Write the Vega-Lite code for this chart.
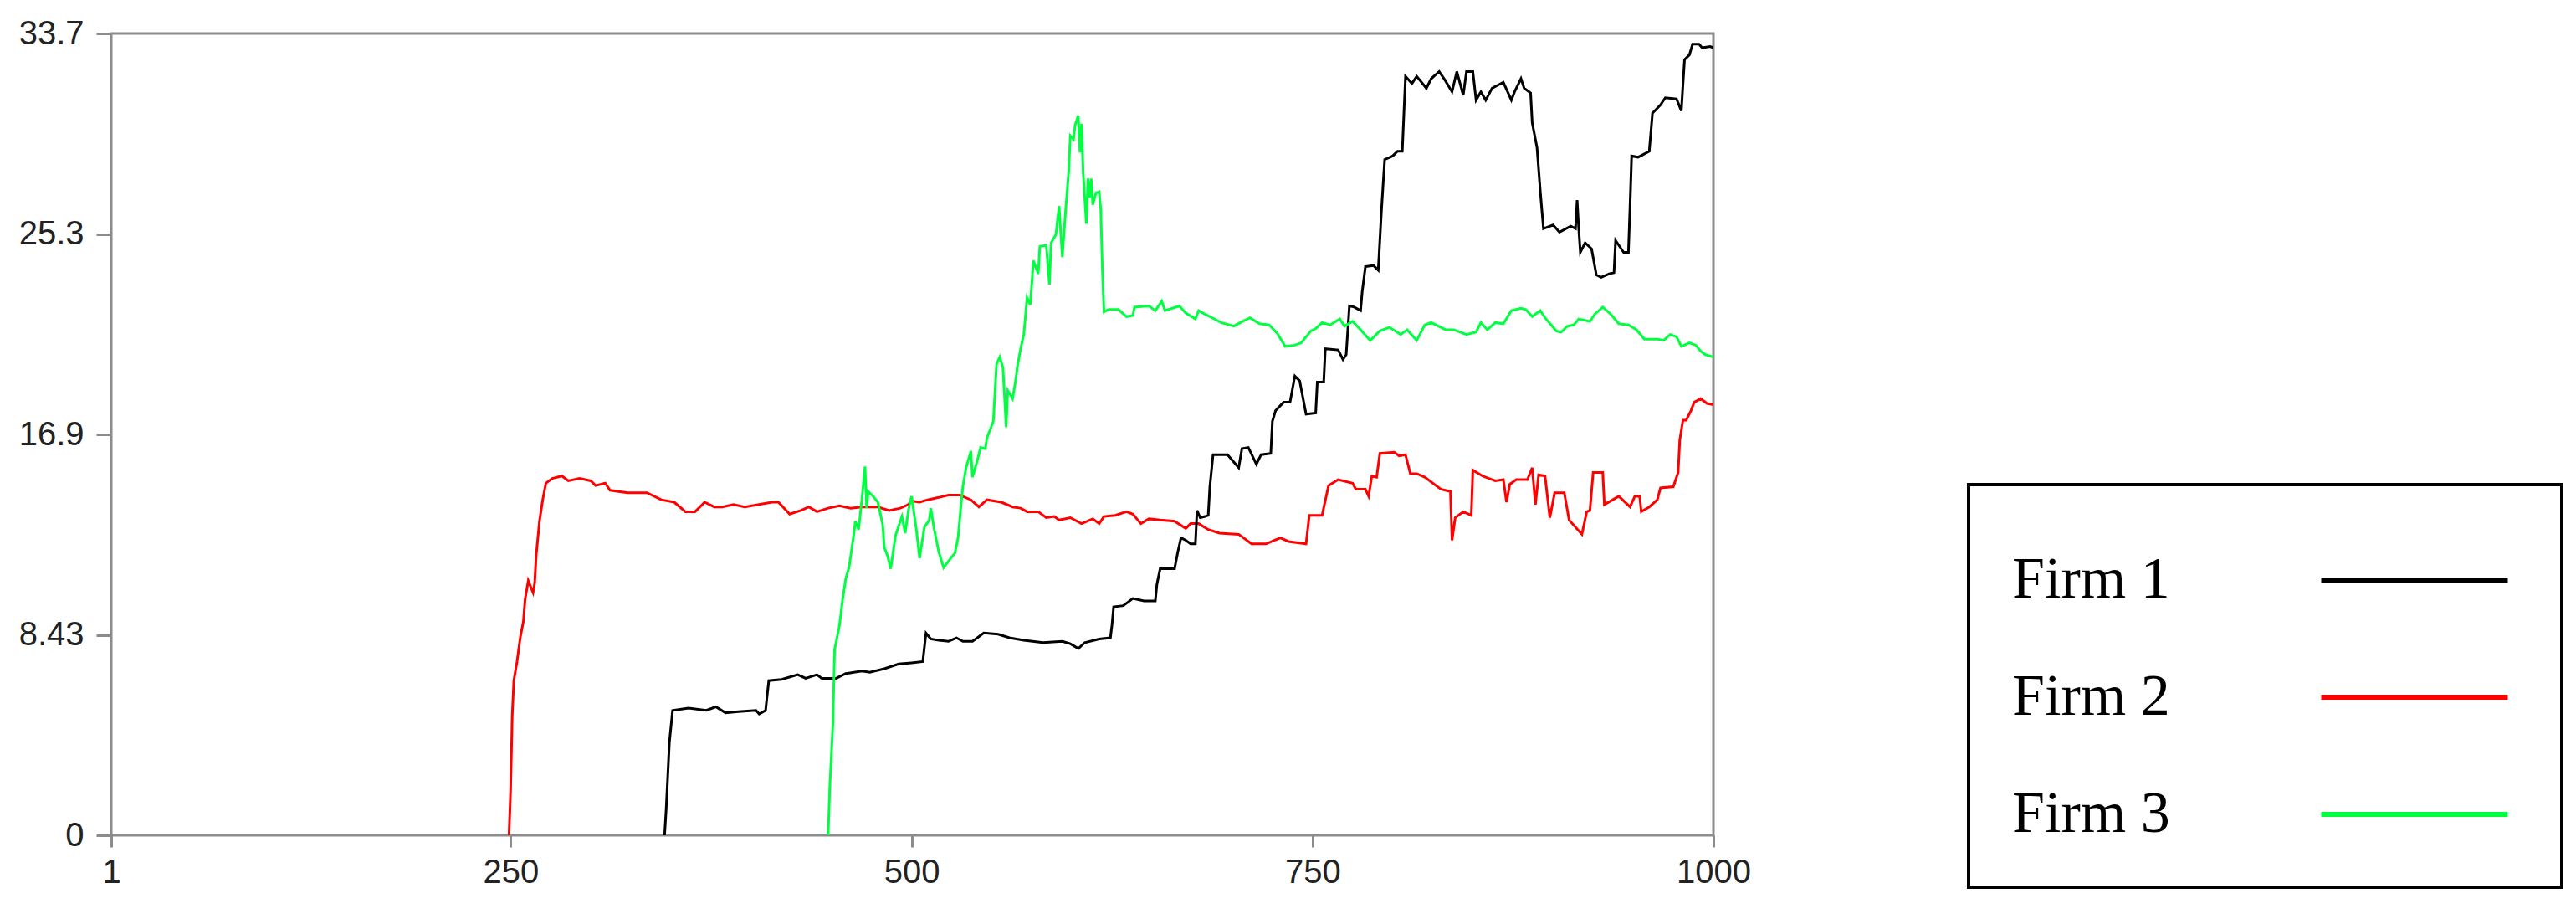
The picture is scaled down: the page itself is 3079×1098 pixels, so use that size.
{
  "$schema": "https://vega.github.io/schema/vega-lite/v6.json",
  "autosize": {"type": "none"},
  "padding": {"left": 133, "top": 40, "right": 1031, "bottom": 100},
  "width": 1915,
  "height": 958,
  "background": "white",
  "config": {
    "view": {"stroke": "#8c8c8c", "strokeWidth": 3},
    "axis": {"grid": false, "domain": false, "title": null, "tickColor": "#8c8c8c", "tickWidth": 3, "labelFont": "Liberation Sans", "labelFontSize": 40, "labelColor": "#222222", "labelOverlap": false, "labelFlush": false},
    "legend": {"strokeWidth": 4}
  },
  "data": {"values": [
    {"t":249,"firm":"Firm 2","v":0},{"t":250,"firm":"Firm 2","v":1.9},{"t":251,"firm":"Firm 2","v":5.0},{"t":252,"firm":"Firm 2","v":6.5},{"t":254,"firm":"Firm 2","v":7.3},{"t":256,"firm":"Firm 2","v":8.3},{"t":258,"firm":"Firm 2","v":9.0},{"t":259,"firm":"Firm 2","v":9.9},{"t":261,"firm":"Firm 2","v":10.7},{"t":264,"firm":"Firm 2","v":10.2},{"t":265,"firm":"Firm 2","v":10.6},{"t":266,"firm":"Firm 2","v":11.8},{"t":268,"firm":"Firm 2","v":13.2},{"t":270,"firm":"Firm 2","v":14.1},{"t":272,"firm":"Firm 2","v":14.8},{"t":276,"firm":"Firm 2","v":15.0},{"t":282,"firm":"Firm 2","v":15.1},{"t":286,"firm":"Firm 2","v":14.9},{"t":293,"firm":"Firm 2","v":15.0},{"t":300,"firm":"Firm 2","v":14.9},{"t":303,"firm":"Firm 2","v":14.7},{"t":309,"firm":"Firm 2","v":14.8},{"t":312,"firm":"Firm 2","v":14.5},{"t":323,"firm":"Firm 2","v":14.4},{"t":335,"firm":"Firm 2","v":14.4},{"t":344,"firm":"Firm 2","v":14.1},{"t":352,"firm":"Firm 2","v":14.0},{"t":359,"firm":"Firm 2","v":13.6},{"t":365,"firm":"Firm 2","v":13.6},{"t":371,"firm":"Firm 2","v":14.0},{"t":377,"firm":"Firm 2","v":13.8},{"t":382,"firm":"Firm 2","v":13.8},{"t":389,"firm":"Firm 2","v":13.9},{"t":396,"firm":"Firm 2","v":13.8},{"t":413,"firm":"Firm 2","v":14.0},{"t":417,"firm":"Firm 2","v":14.0},{"t":424,"firm":"Firm 2","v":13.5},{"t":431,"firm":"Firm 2","v":13.65},{"t":436,"firm":"Firm 2","v":13.8},{"t":441,"firm":"Firm 2","v":13.6},{"t":448,"firm":"Firm 2","v":13.75},{"t":455,"firm":"Firm 2","v":13.85},{"t":462,"firm":"Firm 2","v":13.75},{"t":469,"firm":"Firm 2","v":13.8},{"t":479,"firm":"Firm 2","v":13.8},{"t":486,"firm":"Firm 2","v":13.65},{"t":493,"firm":"Firm 2","v":13.75},{"t":498,"firm":"Firm 2","v":13.9},{"t":500,"firm":"Firm 2","v":14.05},{"t":505,"firm":"Firm 2","v":14.0},{"t":510,"firm":"Firm 2","v":14.1},{"t":517,"firm":"Firm 2","v":14.2},{"t":523,"firm":"Firm 2","v":14.3},{"t":530,"firm":"Firm 2","v":14.3},{"t":537,"firm":"Firm 2","v":14.1},{"t":542,"firm":"Firm 2","v":13.8},{"t":547,"firm":"Firm 2","v":14.1},{"t":556,"firm":"Firm 2","v":14.0},{"t":563,"firm":"Firm 2","v":13.8},{"t":568,"firm":"Firm 2","v":13.75},{"t":572,"firm":"Firm 2","v":13.6},{"t":579,"firm":"Firm 2","v":13.6},{"t":584,"firm":"Firm 2","v":13.35},{"t":589,"firm":"Firm 2","v":13.4},{"t":592,"firm":"Firm 2","v":13.25},{"t":599,"firm":"Firm 2","v":13.35},{"t":606,"firm":"Firm 2","v":13.1},{"t":613,"firm":"Firm 2","v":13.3},{"t":617,"firm":"Firm 2","v":13.1},{"t":620,"firm":"Firm 2","v":13.4},{"t":627,"firm":"Firm 2","v":13.45},{"t":634,"firm":"Firm 2","v":13.6},{"t":638,"firm":"Firm 2","v":13.5},{"t":643,"firm":"Firm 2","v":13.1},{"t":648,"firm":"Firm 2","v":13.3},{"t":655,"firm":"Firm 2","v":13.25},{"t":664,"firm":"Firm 2","v":13.2},{"t":671,"firm":"Firm 2","v":12.9},{"t":674,"firm":"Firm 2","v":13.1},{"t":679,"firm":"Firm 2","v":13.1},{"t":685,"firm":"Firm 2","v":12.85},{"t":692,"firm":"Firm 2","v":12.7},{"t":704,"firm":"Firm 2","v":12.65},{"t":712,"firm":"Firm 2","v":12.25},{"t":721,"firm":"Firm 2","v":12.25},{"t":730,"firm":"Firm 2","v":12.5},{"t":735,"firm":"Firm 2","v":12.35},{"t":746,"firm":"Firm 2","v":12.25},{"t":748,"firm":"Firm 2","v":13.45},{"t":756,"firm":"Firm 2","v":13.45},{"t":760,"firm":"Firm 2","v":14.7},{"t":766,"firm":"Firm 2","v":14.95},{"t":775,"firm":"Firm 2","v":14.8},{"t":777,"firm":"Firm 2","v":14.55},{"t":783,"firm":"Firm 2","v":14.55},{"t":785,"firm":"Firm 2","v":14.25},{"t":787,"firm":"Firm 2","v":15.1},{"t":790,"firm":"Firm 2","v":15.05},{"t":792,"firm":"Firm 2","v":16.05},{"t":801,"firm":"Firm 2","v":16.1},{"t":804,"firm":"Firm 2","v":15.95},{"t":808,"firm":"Firm 2","v":16.0},{"t":811,"firm":"Firm 2","v":15.2},{"t":815,"firm":"Firm 2","v":15.2},{"t":820,"firm":"Firm 2","v":15.05},{"t":830,"firm":"Firm 2","v":14.55},{"t":836,"firm":"Firm 2","v":14.45},{"t":837,"firm":"Firm 2","v":12.4},{"t":839,"firm":"Firm 2","v":13.35},{"t":844,"firm":"Firm 2","v":13.6},{"t":849,"firm":"Firm 2","v":13.45},{"t":850,"firm":"Firm 2","v":15.35},{"t":856,"firm":"Firm 2","v":15.1},{"t":864,"firm":"Firm 2","v":14.9},{"t":869,"firm":"Firm 2","v":14.95},{"t":871,"firm":"Firm 2","v":14.0},{"t":873,"firm":"Firm 2","v":14.75},{"t":877,"firm":"Firm 2","v":14.95},{"t":884,"firm":"Firm 2","v":14.95},{"t":887,"firm":"Firm 2","v":15.45},{"t":889,"firm":"Firm 2","v":13.9},{"t":891,"firm":"Firm 2","v":15.15},{"t":895,"firm":"Firm 2","v":15.1},{"t":898,"firm":"Firm 2","v":13.35},{"t":901,"firm":"Firm 2","v":14.4},{"t":907,"firm":"Firm 2","v":14.4},{"t":910,"firm":"Firm 2","v":13.25},{"t":918,"firm":"Firm 2","v":12.65},{"t":921,"firm":"Firm 2","v":13.6},{"t":923,"firm":"Firm 2","v":13.65},{"t":925,"firm":"Firm 2","v":15.25},{"t":931,"firm":"Firm 2","v":15.25},{"t":932,"firm":"Firm 2","v":13.9},{"t":941,"firm":"Firm 2","v":14.25},{"t":948,"firm":"Firm 2","v":13.8},{"t":951,"firm":"Firm 2","v":14.25},{"t":954,"firm":"Firm 2","v":14.25},{"t":955,"firm":"Firm 2","v":13.6},{"t":960,"firm":"Firm 2","v":13.8},{"t":965,"firm":"Firm 2","v":14.1},{"t":967,"firm":"Firm 2","v":14.6},{"t":975,"firm":"Firm 2","v":14.65},{"t":978,"firm":"Firm 2","v":15.25},{"t":979,"firm":"Firm 2","v":16.6},{"t":981,"firm":"Firm 2","v":17.45},{"t":983,"firm":"Firm 2","v":17.45},{"t":986,"firm":"Firm 2","v":17.85},{"t":988,"firm":"Firm 2","v":18.2},{"t":992,"firm":"Firm 2","v":18.35},{"t":996,"firm":"Firm 2","v":18.15},{"t":1000,"firm":"Firm 2","v":18.1},
    {"t":346,"firm":"Firm 1","v":0},{"t":347,"firm":"Firm 1","v":1.1},{"t":349,"firm":"Firm 1","v":3.9},{"t":351,"firm":"Firm 1","v":5.25},{"t":361,"firm":"Firm 1","v":5.35},{"t":372,"firm":"Firm 1","v":5.25},{"t":378,"firm":"Firm 1","v":5.4},{"t":384,"firm":"Firm 1","v":5.15},{"t":392,"firm":"Firm 1","v":5.2},{"t":403,"firm":"Firm 1","v":5.25},{"t":405,"firm":"Firm 1","v":5.1},{"t":409,"firm":"Firm 1","v":5.25},{"t":410,"firm":"Firm 1","v":5.9},{"t":411,"firm":"Firm 1","v":6.5},{"t":419,"firm":"Firm 1","v":6.55},{"t":429,"firm":"Firm 1","v":6.75},{"t":434,"firm":"Firm 1","v":6.6},{"t":441,"firm":"Firm 1","v":6.75},{"t":444,"firm":"Firm 1","v":6.6},{"t":453,"firm":"Firm 1","v":6.6},{"t":459,"firm":"Firm 1","v":6.8},{"t":469,"firm":"Firm 1","v":6.9},{"t":474,"firm":"Firm 1","v":6.85},{"t":483,"firm":"Firm 1","v":7.0},{"t":492,"firm":"Firm 1","v":7.2},{"t":500,"firm":"Firm 1","v":7.25},{"t":507,"firm":"Firm 1","v":7.3},{"t":509,"firm":"Firm 1","v":8.5},{"t":512,"firm":"Firm 1","v":8.25},{"t":517,"firm":"Firm 1","v":8.2},{"t":523,"firm":"Firm 1","v":8.15},{"t":528,"firm":"Firm 1","v":8.3},{"t":532,"firm":"Firm 1","v":8.15},{"t":538,"firm":"Firm 1","v":8.15},{"t":545,"firm":"Firm 1","v":8.5},{"t":554,"firm":"Firm 1","v":8.45},{"t":561,"firm":"Firm 1","v":8.3},{"t":570,"firm":"Firm 1","v":8.2},{"t":582,"firm":"Firm 1","v":8.1},{"t":594,"firm":"Firm 1","v":8.15},{"t":599,"firm":"Firm 1","v":8.05},{"t":604,"firm":"Firm 1","v":7.85},{"t":608,"firm":"Firm 1","v":8.1},{"t":617,"firm":"Firm 1","v":8.25},{"t":624,"firm":"Firm 1","v":8.3},{"t":625,"firm":"Firm 1","v":8.85},{"t":626,"firm":"Firm 1","v":9.6},{"t":632,"firm":"Firm 1","v":9.65},{"t":638,"firm":"Firm 1","v":9.95},{"t":645,"firm":"Firm 1","v":9.85},{"t":652,"firm":"Firm 1","v":9.85},{"t":653,"firm":"Firm 1","v":10.55},{"t":655,"firm":"Firm 1","v":11.2},{"t":664,"firm":"Firm 1","v":11.2},{"t":666,"firm":"Firm 1","v":11.9},{"t":668,"firm":"Firm 1","v":12.5},{"t":671,"firm":"Firm 1","v":12.4},{"t":674,"firm":"Firm 1","v":12.25},{"t":677,"firm":"Firm 1","v":12.25},{"t":678,"firm":"Firm 1","v":13.65},{"t":680,"firm":"Firm 1","v":13.35},{"t":683,"firm":"Firm 1","v":13.4},{"t":685,"firm":"Firm 1","v":13.45},{"t":686,"firm":"Firm 1","v":14.65},{"t":688,"firm":"Firm 1","v":16.0},{"t":693,"firm":"Firm 1","v":16.0},{"t":697,"firm":"Firm 1","v":16.0},{"t":704,"firm":"Firm 1","v":15.45},{"t":706,"firm":"Firm 1","v":16.25},{"t":710,"firm":"Firm 1","v":16.3},{"t":715,"firm":"Firm 1","v":15.6},{"t":718,"firm":"Firm 1","v":16.0},{"t":724,"firm":"Firm 1","v":16.05},{"t":725,"firm":"Firm 1","v":17.4},{"t":727,"firm":"Firm 1","v":17.85},{"t":732,"firm":"Firm 1","v":18.2},{"t":736,"firm":"Firm 1","v":18.2},{"t":739,"firm":"Firm 1","v":19.3},{"t":742,"firm":"Firm 1","v":19.1},{"t":746,"firm":"Firm 1","v":17.7},{"t":752,"firm":"Firm 1","v":17.75},{"t":753,"firm":"Firm 1","v":19.05},{"t":757,"firm":"Firm 1","v":19.05},{"t":758,"firm":"Firm 1","v":20.45},{"t":766,"firm":"Firm 1","v":20.4},{"t":769,"firm":"Firm 1","v":20.0},{"t":771,"firm":"Firm 1","v":20.2},{"t":773,"firm":"Firm 1","v":22.25},{"t":776,"firm":"Firm 1","v":22.2},{"t":780,"firm":"Firm 1","v":22.05},{"t":781,"firm":"Firm 1","v":22.85},{"t":783,"firm":"Firm 1","v":23.9},{"t":788,"firm":"Firm 1","v":23.95},{"t":791,"firm":"Firm 1","v":23.75},{"t":793,"firm":"Firm 1","v":26.25},{"t":795,"firm":"Firm 1","v":28.4},{"t":800,"firm":"Firm 1","v":28.55},{"t":803,"firm":"Firm 1","v":28.75},{"t":806,"firm":"Firm 1","v":28.75},{"t":807,"firm":"Firm 1","v":30.35},{"t":808,"firm":"Firm 1","v":31.9},{"t":812,"firm":"Firm 1","v":31.6},{"t":815,"firm":"Firm 1","v":31.9},{"t":821,"firm":"Firm 1","v":31.4},{"t":824,"firm":"Firm 1","v":31.8},{"t":829,"firm":"Firm 1","v":32.1},{"t":833,"firm":"Firm 1","v":31.7},{"t":837,"firm":"Firm 1","v":31.25},{"t":840,"firm":"Firm 1","v":32.1},{"t":844,"firm":"Firm 1","v":31.1},{"t":846,"firm":"Firm 1","v":32.1},{"t":850,"firm":"Firm 1","v":32.1},{"t":852,"firm":"Firm 1","v":30.9},{"t":855,"firm":"Firm 1","v":31.25},{"t":858,"firm":"Firm 1","v":30.9},{"t":862,"firm":"Firm 1","v":31.4},{"t":869,"firm":"Firm 1","v":31.65},{"t":874,"firm":"Firm 1","v":30.9},{"t":876,"firm":"Firm 1","v":31.25},{"t":880,"firm":"Firm 1","v":31.8},{"t":882,"firm":"Firm 1","v":31.4},{"t":886,"firm":"Firm 1","v":31.2},{"t":887,"firm":"Firm 1","v":29.95},{"t":890,"firm":"Firm 1","v":28.9},{"t":892,"firm":"Firm 1","v":27.1},{"t":894,"firm":"Firm 1","v":25.5},{"t":900,"firm":"Firm 1","v":25.65},{"t":904,"firm":"Firm 1","v":25.35},{"t":911,"firm":"Firm 1","v":25.6},{"t":914,"firm":"Firm 1","v":25.5},{"t":915,"firm":"Firm 1","v":26.7},{"t":916,"firm":"Firm 1","v":25.5},{"t":917,"firm":"Firm 1","v":24.5},{"t":920,"firm":"Firm 1","v":24.9},{"t":924,"firm":"Firm 1","v":24.65},{"t":927,"firm":"Firm 1","v":23.55},{"t":930,"firm":"Firm 1","v":23.45},{"t":935,"firm":"Firm 1","v":23.6},{"t":938,"firm":"Firm 1","v":23.65},{"t":939,"firm":"Firm 1","v":25.0},{"t":941,"firm":"Firm 1","v":24.8},{"t":944,"firm":"Firm 1","v":24.5},{"t":947,"firm":"Firm 1","v":24.5},{"t":948,"firm":"Firm 1","v":26.45},{"t":949,"firm":"Firm 1","v":28.55},{"t":953,"firm":"Firm 1","v":28.5},{"t":960,"firm":"Firm 1","v":28.75},{"t":962,"firm":"Firm 1","v":30.35},{"t":967,"firm":"Firm 1","v":30.7},{"t":970,"firm":"Firm 1","v":31.0},{"t":977,"firm":"Firm 1","v":30.95},{"t":980,"firm":"Firm 1","v":30.45},{"t":981,"firm":"Firm 1","v":31.55},{"t":982,"firm":"Firm 1","v":32.6},{"t":985,"firm":"Firm 1","v":32.8},{"t":987,"firm":"Firm 1","v":33.25},{"t":991,"firm":"Firm 1","v":33.25},{"t":993,"firm":"Firm 1","v":33.1},{"t":998,"firm":"Firm 1","v":33.15},{"t":1000,"firm":"Firm 1","v":33.1},
    {"t":448,"firm":"Firm 3","v":0},{"t":449,"firm":"Firm 3","v":2.0},{"t":451,"firm":"Firm 3","v":4.75},{"t":452,"firm":"Firm 3","v":7.8},{"t":455,"firm":"Firm 3","v":8.8},{"t":457,"firm":"Firm 3","v":9.9},{"t":459,"firm":"Firm 3","v":10.8},{"t":461,"firm":"Firm 3","v":11.25},{"t":464,"firm":"Firm 3","v":12.65},{"t":465,"firm":"Firm 3","v":13.2},{"t":467,"firm":"Firm 3","v":12.85},{"t":469,"firm":"Firm 3","v":14.1},{"t":471,"firm":"Firm 3","v":15.5},{"t":472,"firm":"Firm 3","v":13.75},{"t":473,"firm":"Firm 3","v":14.45},{"t":476,"firm":"Firm 3","v":14.25},{"t":479,"firm":"Firm 3","v":14.0},{"t":482,"firm":"Firm 3","v":13.05},{"t":483,"firm":"Firm 3","v":12.1},{"t":485,"firm":"Firm 3","v":11.75},{"t":487,"firm":"Firm 3","v":11.2},{"t":490,"firm":"Firm 3","v":12.6},{"t":494,"firm":"Firm 3","v":13.4},{"t":496,"firm":"Firm 3","v":12.7},{"t":498,"firm":"Firm 3","v":13.65},{"t":500,"firm":"Firm 3","v":14.25},{"t":503,"firm":"Firm 3","v":12.85},{"t":505,"firm":"Firm 3","v":11.65},{"t":508,"firm":"Firm 3","v":12.95},{"t":511,"firm":"Firm 3","v":13.25},{"t":512,"firm":"Firm 3","v":13.75},{"t":514,"firm":"Firm 3","v":12.9},{"t":517,"firm":"Firm 3","v":11.9},{"t":520,"firm":"Firm 3","v":11.25},{"t":525,"firm":"Firm 3","v":11.7},{"t":527,"firm":"Firm 3","v":11.85},{"t":529,"firm":"Firm 3","v":12.5},{"t":531,"firm":"Firm 3","v":14.0},{"t":532,"firm":"Firm 3","v":14.65},{"t":534,"firm":"Firm 3","v":15.45},{"t":537,"firm":"Firm 3","v":16.15},{"t":538,"firm":"Firm 3","v":15.05},{"t":541,"firm":"Firm 3","v":15.75},{"t":543,"firm":"Firm 3","v":16.3},{"t":546,"firm":"Firm 3","v":16.25},{"t":547,"firm":"Firm 3","v":16.7},{"t":551,"firm":"Firm 3","v":17.4},{"t":553,"firm":"Firm 3","v":19.8},{"t":555,"firm":"Firm 3","v":20.1},{"t":557,"firm":"Firm 3","v":19.65},{"t":559,"firm":"Firm 3","v":17.15},{"t":560,"firm":"Firm 3","v":18.7},{"t":563,"firm":"Firm 3","v":18.35},{"t":565,"firm":"Firm 3","v":19.15},{"t":566,"firm":"Firm 3","v":19.7},{"t":568,"firm":"Firm 3","v":20.45},{"t":570,"firm":"Firm 3","v":21.05},{"t":571,"firm":"Firm 3","v":21.8},{"t":572,"firm":"Firm 3","v":22.6},{"t":574,"firm":"Firm 3","v":22.3},{"t":575,"firm":"Firm 3","v":23.2},{"t":576,"firm":"Firm 3","v":24.15},{"t":579,"firm":"Firm 3","v":23.6},{"t":580,"firm":"Firm 3","v":24.75},{"t":584,"firm":"Firm 3","v":24.8},{"t":586,"firm":"Firm 3","v":23.15},{"t":587,"firm":"Firm 3","v":24.9},{"t":590,"firm":"Firm 3","v":25.25},{"t":591,"firm":"Firm 3","v":25.85},{"t":592,"firm":"Firm 3","v":26.45},{"t":594,"firm":"Firm 3","v":24.3},{"t":596,"firm":"Firm 3","v":26.2},{"t":598,"firm":"Firm 3","v":27.9},{"t":599,"firm":"Firm 3","v":29.4},{"t":601,"firm":"Firm 3","v":29.25},{"t":602,"firm":"Firm 3","v":29.85},{"t":604,"firm":"Firm 3","v":30.25},{"t":605,"firm":"Firm 3","v":28.7},{"t":606,"firm":"Firm 3","v":29.9},{"t":607,"firm":"Firm 3","v":27.85},{"t":609,"firm":"Firm 3","v":25.7},{"t":610,"firm":"Firm 3","v":27.6},{"t":611,"firm":"Firm 3","v":26.8},{"t":612,"firm":"Firm 3","v":27.6},{"t":613,"firm":"Firm 3","v":26.5},{"t":615,"firm":"Firm 3","v":27.0},{"t":617,"firm":"Firm 3","v":27.05},{"t":618,"firm":"Firm 3","v":26.3},{"t":619,"firm":"Firm 3","v":23.75},{"t":620,"firm":"Firm 3","v":22.0},{"t":623,"firm":"Firm 3","v":22.1},{"t":629,"firm":"Firm 3","v":22.1},{"t":634,"firm":"Firm 3","v":21.8},{"t":638,"firm":"Firm 3","v":21.85},{"t":639,"firm":"Firm 3","v":22.2},{"t":648,"firm":"Firm 3","v":22.25},{"t":652,"firm":"Firm 3","v":22.05},{"t":656,"firm":"Firm 3","v":22.45},{"t":658,"firm":"Firm 3","v":22.05},{"t":667,"firm":"Firm 3","v":22.25},{"t":671,"firm":"Firm 3","v":21.95},{"t":677,"firm":"Firm 3","v":21.7},{"t":679,"firm":"Firm 3","v":22.05},{"t":683,"firm":"Firm 3","v":21.9},{"t":686,"firm":"Firm 3","v":21.8},{"t":693,"firm":"Firm 3","v":21.55},{"t":701,"firm":"Firm 3","v":21.4},{"t":705,"firm":"Firm 3","v":21.55},{"t":711,"firm":"Firm 3","v":21.75},{"t":717,"firm":"Firm 3","v":21.5},{"t":723,"firm":"Firm 3","v":21.45},{"t":728,"firm":"Firm 3","v":21.1},{"t":733,"firm":"Firm 3","v":20.55},{"t":739,"firm":"Firm 3","v":20.6},{"t":743,"firm":"Firm 3","v":20.7},{"t":749,"firm":"Firm 3","v":21.2},{"t":752,"firm":"Firm 3","v":21.3},{"t":756,"firm":"Firm 3","v":21.55},{"t":761,"firm":"Firm 3","v":21.45},{"t":767,"firm":"Firm 3","v":21.7},{"t":770,"firm":"Firm 3","v":21.4},{"t":775,"firm":"Firm 3","v":21.6},{"t":780,"firm":"Firm 3","v":21.25},{"t":786,"firm":"Firm 3","v":20.8},{"t":792,"firm":"Firm 3","v":21.2},{"t":798,"firm":"Firm 3","v":21.35},{"t":805,"firm":"Firm 3","v":21.05},{"t":809,"firm":"Firm 3","v":21.25},{"t":815,"firm":"Firm 3","v":20.8},{"t":820,"firm":"Firm 3","v":21.45},{"t":824,"firm":"Firm 3","v":21.55},{"t":833,"firm":"Firm 3","v":21.25},{"t":838,"firm":"Firm 3","v":21.25},{"t":846,"firm":"Firm 3","v":21.05},{"t":852,"firm":"Firm 3","v":21.15},{"t":855,"firm":"Firm 3","v":21.55},{"t":859,"firm":"Firm 3","v":21.25},{"t":864,"firm":"Firm 3","v":21.55},{"t":869,"firm":"Firm 3","v":21.5},{"t":874,"firm":"Firm 3","v":22.05},{"t":880,"firm":"Firm 3","v":22.15},{"t":883,"firm":"Firm 3","v":22.1},{"t":887,"firm":"Firm 3","v":21.8},{"t":892,"firm":"Firm 3","v":22.05},{"t":895,"firm":"Firm 3","v":21.75},{"t":902,"firm":"Firm 3","v":21.2},{"t":905,"firm":"Firm 3","v":21.15},{"t":909,"firm":"Firm 3","v":21.4},{"t":913,"firm":"Firm 3","v":21.45},{"t":916,"firm":"Firm 3","v":21.7},{"t":923,"firm":"Firm 3","v":21.6},{"t":926,"firm":"Firm 3","v":21.9},{"t":931,"firm":"Firm 3","v":22.2},{"t":936,"firm":"Firm 3","v":21.9},{"t":941,"firm":"Firm 3","v":21.5},{"t":947,"firm":"Firm 3","v":21.45},{"t":952,"firm":"Firm 3","v":21.25},{"t":957,"firm":"Firm 3","v":20.85},{"t":965,"firm":"Firm 3","v":20.85},{"t":969,"firm":"Firm 3","v":20.8},{"t":973,"firm":"Firm 3","v":21.05},{"t":977,"firm":"Firm 3","v":20.95},{"t":980,"firm":"Firm 3","v":20.55},{"t":985,"firm":"Firm 3","v":20.7},{"t":989,"firm":"Firm 3","v":20.6},{"t":992,"firm":"Firm 3","v":20.35},{"t":995,"firm":"Firm 3","v":20.2},{"t":1000,"firm":"Firm 3","v":20.1}
  ]},
  "mark": {"type": "line", "strokeWidth": 3, "clip": true},
  "encoding": {
    "x": {"field": "t", "type": "quantitative",
      "scale": {"domain": [1, 1000], "nice": false, "zero": false},
      "axis": {"values": [1, 250, 500, 750, 1000], "format": "d", "tickSize": 14, "labelPadding": 10}},
    "y": {"field": "v", "type": "quantitative",
      "scale": {"domain": [0, 33.7], "nice": false},
      "axis": {"values": [0, 8.425, 16.85, 25.275, 33.7], "tickSize": 18, "labelPadding": 15,
        "labelExpr": "datum.value == 0 ? '0' : datum.value < 9 ? '8.43' : datum.value < 17 ? '16.9' : datum.value < 26 ? '25.3' : '33.7'"}},
    "color": {"field": "firm", "type": "nominal",
      "scale": {"domain": ["Firm 1", "Firm 2", "Firm 3"], "range": ["#000000", "#ff0000", "#00ff40"]},
      "legend": {
        "orient": "none", "legendX": 2220, "legendY": 539, "title": null, "direction": "vertical",
        "symbolType": "M-1.89,0H1.89", "symbolSize": 13924, "symbolStrokeWidth": 6,
        "symbolOffset": 419, "labelOffset": -543, "labelAlign": "left",
        "labelFont": "Liberation Serif", "labelFontSize": 70, "labelColor": "#000000", "labelLimit": 600,
        "rowPadding": 43, "padding": 52,
        "strokeColor": "#000000"
      }
    }
  }
}
